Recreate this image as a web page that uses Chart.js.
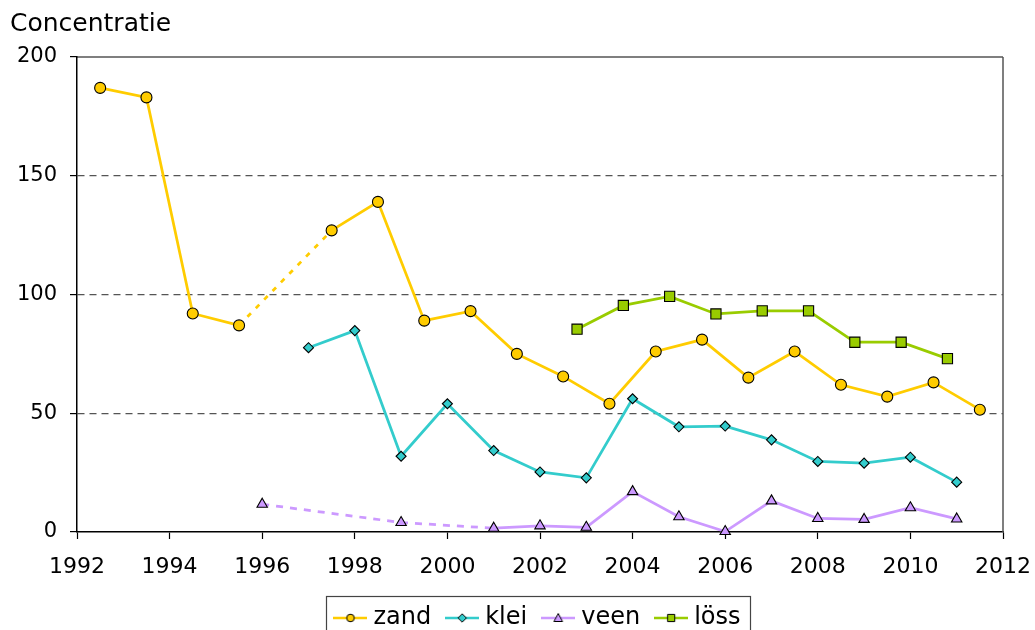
<!DOCTYPE html>
<html><head><meta charset="utf-8">
<script src="https://cdn.jsdelivr.net/npm/chart.js@4"></script>
<style>html,body{margin:0;padding:0;background:#fff;overflow:hidden}#wrap{width:1035px;height:660px;position:relative}</style>
</head><body><div id="wrap"><canvas id="c"></canvas></div>
<script>
// ---- data ----
const zandYears  = [1992.5,1993.5,1994.5,1995.5,1997.5,1998.5,1999.5,2000.5,2001.5,2002.5,2003.5,2004.5,2005.5,2006.5,2007.5,2008.5,2009.5,2010.5,2011.5];
const zandValues = [187,183,92,87,127,139,89,93,75,65.5,54,76,81,65,76,62,57,63,51.5];
const kleiYears  = [1997,1998,1999,2000,2001,2002,2003,2004,2005,2006,2007,2008,2009,2010,2011];
const kleiValues = [77.6,84.8,31.9,54,34.3,25.3,22.8,56.1,44.3,44.6,38.8,29.7,29.0,31.5,21.0];
const veenYears  = [1996,1999,2001,2002,2003,2004,2005,2006,2007,2008,2009,2010,2011];
const veenValues = [11.7,4,1.6,2.6,2,17,6.4,0.2,13.1,5.7,5.3,10.2,5.5];
const lossYears  = [2002.8,2003.8,2004.8,2005.8,2006.8,2007.8,2008.8,2009.8,2010.8];
const lossValues = [85.4,95.4,99.2,91.8,93.1,93.1,79.9,79.9,73.0];
const seriesNames = ['zand','klei','veen','löss'];
const xTickValues = [1992,1994,1996,1998,2000,2002,2004,2006,2008,2010,2012];
const yTickValues = [0,50,100,150,200];
const yAxisTitle = 'Concentratie';

// ---- styles ----
const FONT = 'DejaVu Sans';
const colors = ['#FFCC00','#33CCCC','#CC99FF','#99CC00'];
const styles = ['circle','rectRot','triangle','rect'];
const radii = [5.5,5,6,7.2];
const dashes = [[5,7],[5,7],[7,7],[5,7]];

function pts(xs, ys){ return xs.map((x,i)=>({x:x, y:ys[i]})); }
const allData = [pts(zandYears,zandValues), pts(kleiYears,kleiValues), pts(veenYears,veenValues), pts(lossYears,lossValues)];

function makeSym(color, style){
  const c = document.createElement('canvas'); c.width = 34; c.height = 14;
  const g = c.getContext('2d');
  g.strokeStyle = color; g.lineWidth = 2.5;
  g.beginPath(); g.moveTo(0,7); g.lineTo(34,7); g.stroke();
  g.fillStyle = color; g.strokeStyle = '#000'; g.lineWidth = 1;
  g.beginPath();
  const cx = 17, cy = 7;
  if (style === 'circle') { g.arc(cx,cy,3.8,0,Math.PI*2); }
  else if (style === 'rectRot') { g.moveTo(cx-4.2,cy); g.lineTo(cx,cy-4.2); g.lineTo(cx+4.2,cy); g.lineTo(cx,cy+4.2); g.closePath(); }
  else if (style === 'triangle') { g.moveTo(cx,cy-4.5); g.lineTo(cx+4.3,cy+3.5); g.lineTo(cx-4.3,cy+3.5); g.closePath(); }
  else { g.rect(cx-3.6,cy-3.6,7.2,7.2); }
  g.fill(); g.stroke();
  return c;
}
const legendSyms = colors.map((c,i)=>makeSym(c, styles[i]));

const datasets = seriesNames.map((name,i)=>({
  label: name,
  data: allData[i],
  borderColor: colors[i],
  backgroundColor: colors[i],
  borderWidth: 2.75,
  pointStyle: styles[i],
  pointRadius: radii[i],
  pointHoverRadius: radii[i],
  pointBackgroundColor: colors[i],
  pointBorderColor: '#000',
  pointBorderWidth: 1.1,
  tension: 0,
  clip: false,
  segment: { borderDash: ctx => (ctx.p1.parsed.x - ctx.p0.parsed.x > 1.5) ? dashes[i] : undefined }
}));

const framePlugin = {
  id: 'frame',
  beforeDatasetsDraw(chart){
    const a = chart.chartArea, g = chart.ctx;
    g.save();
    g.strokeStyle = '#000'; g.lineWidth = 1.2;
    g.beginPath(); g.moveTo(a.left, a.top); g.lineTo(a.right, a.top); g.stroke();
    g.strokeStyle = '#555'; g.lineWidth = 1.5;
    g.beginPath(); g.moveTo(a.right, a.top); g.lineTo(a.right, a.bottom); g.stroke();
    g.restore();
  },
  afterDraw(chart){
    const hb = chart.legend && chart.legend.legendHitBoxes;
    if (!hb || !hb.length) return;
    const last = hb[hb.length-1];
    const left = hb[0].left - 13.5, right = last.left + last.width + 9, top = hb[0].top - 10;
    const g = chart.ctx;
    g.save(); g.strokeStyle = '#444'; g.lineWidth = 1.2;
    g.strokeRect(Math.round(left)+0.5, Math.round(top)+0.5, Math.round(right-left), chart.height);
    g.restore();
  }
};

new Chart(document.getElementById('c'), {
  type: 'line',
  data: { datasets },
  plugins: [framePlugin],
  options: {
    responsive: true, maintainAspectRatio: false, animation: false,
    layout: { padding: { left: 10, right: 32, top: 0, bottom: 20 } },
    plugins: {
      tooltip: { enabled: false },
      title: { display: true, text: yAxisTitle, align: 'start', color: '#000',
               font: { family: FONT, size: 25, weight: 'normal' }, padding: { top: 9, bottom: 18 } },
      legend: {
        position: 'bottom', fullSize: false,
        labels: {
          usePointStyle: true, pointStyleWidth: 22, padding: 20, color: '#000',
          font: { family: FONT, size: 24 },
          generateLabels(chart){
            const items = Chart.defaults.plugins.legend.labels.generateLabels(chart);
            items.forEach((it,i)=>{ it.pointStyle = legendSyms[i]; });
            return items;
          }
        }
      }
    },
    scales: {
      x: {
        type: 'linear', min: 1992, max: 2012,
        afterBuildTicks: s => { s.ticks = xTickValues.map(v=>({value:v})); },
        afterFit: s => { s.height = 54; s.paddingRight = 20; s.paddingLeft = 20; },
        ticks: { color: '#000', font: { family: FONT, size: 22 }, padding: 15, maxRotation: 0, autoSkip: false,
                 callback: v => String(v) },
        grid: { drawOnChartArea: false, drawTicks: true, tickLength: 7, tickColor: '#000', tickWidth: 1.2 },
        border: { display: true, color: '#000', width: 1.5 }
      },
      y: {
        min: 0, max: 200,
        afterBuildTicks: s => { s.ticks = yTickValues.map(v=>({value:v})); },
        afterFit: s => { s.width = 67; },
        ticks: { color: '#000', font: { family: FONT, size: 21 }, padding: 13, callback: v => String(v) },
        grid: { color: c => (c.tick && (c.tick.value === 0 || c.tick.value === 200)) ? 'rgba(0,0,0,0)' : '#555',
                lineWidth: 1.2, drawTicks: true, tickLength: 7, tickColor: '#000', tickWidth: 1.2 },
        border: { display: true, color: '#000', width: 1.5, dash: [7,5] }
      }
    }
  }
});
</script></body></html>
